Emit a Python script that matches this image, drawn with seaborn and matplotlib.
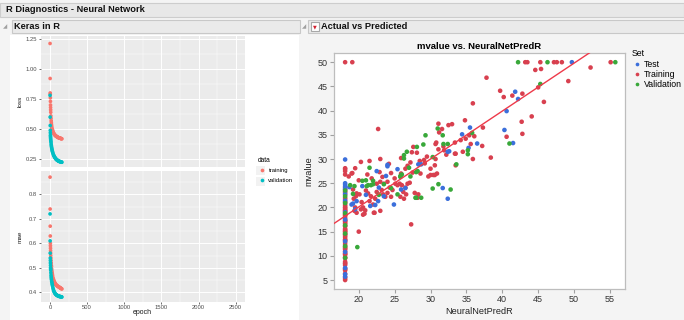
import matplotlib
matplotlib.use('Agg')
import matplotlib.pyplot as plt
import seaborn as sns
import numpy as np
import pandas as pd
from matplotlib.patches import Rectangle
from matplotlib.ticker import MultipleLocator, FormatStrFormatter

plt.rcParams['font.family'] = ['Liberation Sans', 'DejaVu Sans']

# ---- keras training history (left panel) ----
epochs = [1, 2, 3, 4, 5, 6, 7, 8, 9, 10, 12, 14, 16, 18, 20, 23, 26, 29, 32, 35,
          40, 45, 50, 55, 60, 65, 70, 75, 80, 85, 90, 95, 100, 105, 110, 115, 120,
          125, 130, 135, 140, 145, 150, 155, 160]
loss_train = [1.21, 0.92, 0.80, 0.79, 0.76, 0.73, 0.70, 0.68, 0.66, 0.64,
              0.61, 0.59, 0.57, 0.555, 0.54, 0.525, 0.51, 0.50, 0.495, 0.49,
              0.48, 0.472, 0.466, 0.461, 0.456, 0.452, 0.449, 0.446, 0.443, 0.441,
              0.439, 0.437, 0.435, 0.433, 0.431, 0.430, 0.428, 0.427, 0.426, 0.425,
              0.424, 0.423, 0.422, 0.421, 0.420]
loss_val = [0.78, 0.60, 0.53, 0.49, 0.47, 0.45, 0.44, 0.43, 0.42, 0.41,
            0.40, 0.39, 0.375, 0.365, 0.355, 0.345, 0.335, 0.325, 0.318, 0.31,
            0.30, 0.29, 0.283, 0.277, 0.271, 0.266, 0.261, 0.257, 0.253, 0.250,
            0.247, 0.244, 0.242, 0.240, 0.238, 0.236, 0.234, 0.233, 0.232, 0.231,
            0.230, 0.229, 0.228, 0.227, 0.226]
mae_train = [0.87, 0.74, 0.67, 0.63, 0.60, 0.59, 0.58, 0.57, 0.56, 0.55,
             0.54, 0.53, 0.52, 0.51, 0.505, 0.495, 0.487, 0.48, 0.474, 0.468,
             0.46, 0.455, 0.45, 0.446, 0.442, 0.439, 0.436, 0.434, 0.432, 0.430,
             0.428, 0.427, 0.426, 0.425, 0.424, 0.423, 0.422, 0.421, 0.420, 0.419,
             0.418, 0.417, 0.416, 0.415, 0.414]
mae_val = [0.72, 0.61, 0.56, 0.54, 0.53, 0.52, 0.51, 0.50, 0.495, 0.49,
           0.48, 0.47, 0.463, 0.457, 0.452, 0.445, 0.44, 0.434, 0.43, 0.425,
           0.418, 0.412, 0.407, 0.403, 0.40, 0.397, 0.395, 0.393, 0.391, 0.390,
           0.389, 0.388, 0.387, 0.386, 0.385, 0.385, 0.384, 0.384, 0.383, 0.383,
           0.383, 0.382, 0.382, 0.382, 0.381]

# ---- actual vs predicted (right panel) ----
strip_pred = 18.1  # predictions clamped at the low end
test_strip_y = [5.7, 6.2, 7.5, 10.8, 13.0, 17.5, 19.0, 21.4, 22.8, 23.8, 24.3, 24.7, 25.0, 29.9]
test_x = [19.2, 19.7, 22.3, 22.7, 24.9, 22.5, 24.0, 24.0, 23.8, 25.4,
          28.3, 28.7, 31.7, 32.4, 32.4, 32.6, 34.4, 35.3, 35.5, 36.5,
          40.3, 40.6, 41.5, 41.8, 42.2, 49.7,
          20.5, 21.0, 23.5, 25.9, 26.5, 19.5, 21.6, 18.7, 22.8, 19.0]
test_y = [20.8, 21.3, 20.5, 21.3, 20.6, 27.5, 28.5, 28.8, 26.5, 27.9,
          28.9, 28.9, 24.0, 21.8, 31.5, 31.6, 35.1, 32.3, 36.5, 33.2,
          36.0, 39.9, 33.3, 43.9, 42.4, 50.0,
          24.4, 22.6, 22.3, 23.7, 24.0, 19.6, 20.3, 24.2, 24.1, 20.6]

val_strip_y = [9.6, 12.0, 14.6, 16.3, 18.8, 20.9, 22.3, 23.5]
val_x = [19.8, 19.2, 19.4, 21.5, 20.5, 21.0, 21.3, 22.0, 26.3, 26.3,
         26.7, 25.8, 27.0, 28.1, 28.2, 29.0, 29.3, 28.0, 28.7, 30.3,
         31.1, 32.8, 30.3, 31.0, 31.7, 31.8, 32.4, 33.6, 35.2, 35.2,
         35.8, 41.0, 42.2, 46.3, 55.75, 45.3, 26.0, 24.5, 22.8, 23.5,
         18.8, 21.1, 21.7, 22.0, 25.8, 27.2, 25.4, 28.0, 27.9]
val_y = [11.8, 22.8, 24.4, 28.2, 25.5, 25.6, 24.6, 25.5, 30.8, 30.1,
         31.5, 26.5, 28.2, 32.5, 27.5, 33.0, 34.9, 22.0, 22.0, 23.9,
         24.8, 23.7, 30.4, 36.3, 34.9, 33.1, 33.1, 28.9, 31.8, 31.0,
         35.4, 33.2, 50.0, 50.0, 50.0, 45.5, 26.8, 24.0, 22.6, 24.8,
         24.6, 24.4, 24.6, 24.8, 26.3, 26.4, 22.7, 27.3, 22.0]

train_strip_y = [5.0, 5.3, 5.6, 6.3, 7.0, 7.2, 7.4, 8.1, 8.4, 8.5, 8.8, 9.5, 9.7, 10.2,
                 10.4, 10.5, 10.9, 11.3, 11.5, 11.7, 11.9, 12.3, 12.7, 13.1, 13.3, 13.4,
                 13.8, 14.1, 14.4, 14.5, 14.9, 15.0, 15.2, 15.4, 15.6, 16.1, 16.2, 16.6,
                 16.8, 17.1, 17.2, 17.4, 17.8, 18.2, 18.4, 18.5, 18.7, 19.1, 19.3, 19.4,
                 19.6, 19.9, 20.0, 20.3, 20.6, 21.0, 21.2, 21.7, 22.0, 22.6, 23.1, 23.3,
                 23.7, 24.1, 26.8, 27.5, 27.9, 28.1, 50.0]
train_x = [19.1, 19.1, 21.5, 22.7, 23.3, 25.9, 25.9, 26.5, 27.2, 27.4,
           27.6, 28.1, 29.1, 29.2, 30.0, 30.0, 30.6, 30.9, 30.6, 30.7,
           30.8, 30.7, 31.1, 31.2, 31.1, 31.6, 31.8, 31.9, 32.2, 32.5,
           33.0, 33.4, 33.4, 33.5, 33.5, 34.2, 34.5, 34.8, 34.9, 35.4,
           35.6, 35.9, 35.9, 36.1, 37.2, 37.3, 37.8, 38.4, 39.7, 40.2,
           40.6, 41.4, 42.7, 42.8, 42.8, 43.2, 43.5, 44.1, 44.6, 45.0,
           45.3, 45.4, 45.8, 47.2, 47.6, 48.3, 49.2, 52.3, 55.1, 27.3,
           20.0, 19.0, 19.2, 19.3, 19.6, 19.7, 20.1, 20.4, 20.6, 20.3,
           20.8, 20.9, 19.5, 19.4, 19.7, 21.3, 21.7, 21.5, 22.0, 22.1,
           23.0, 22.3, 22.5, 23.2, 23.4, 23.7, 24.0, 24.3, 24.5, 24.7,
           24.0, 23.5, 23.0, 22.5, 25.1, 25.4, 25.7, 26.0, 26.5, 26.8,
           27.1, 26.6, 26.3, 25.8, 26.2, 27.8, 28.3, 28.2, 29.7, 30.4,
           20.6, 22.2, 21.0, 20.0, 21.8, 22.9, 24.5, 25.0, 27.5, 28.6,
           26.8, 24.2, 23.0, 20.3, 21.2, 19.5, 18.6, 29.5, 28.5]
train_y = [50.0, 27.1, 29.6, 36.2, 26.3, 27.0, 30.2, 28.0, 29.3, 31.4,
           32.5, 31.3, 29.8, 29.1, 26.7, 28.0, 26.7, 27.0, 28.7, 30.0,
           33.4, 33.1, 32.0, 35.5, 37.3, 36.2, 32.6, 31.8, 30.9, 37.0,
           37.2, 33.4, 31.1, 28.7, 31.1, 33.9, 31.5, 38.0, 34.2, 34.9,
           33.1, 41.5, 30.0, 34.7, 32.7, 36.5, 46.8, 30.3, 44.1, 42.8,
           34.6, 43.1, 37.7, 43.5, 35.2, 50.0, 50.0, 38.8, 48.4, 44.8,
           50.0, 48.6, 41.8, 50.0, 50.0, 50.0, 46.1, 48.9, 50.0, 16.5,
           15.0, 27.0, 23.7, 21.8, 22.3, 22.9, 22.7, 21.1, 20.0, 19.6,
           18.7, 19.4, 20.0, 19.3, 18.9, 22.9, 22.3, 21.3, 20.6, 18.9,
           19.3, 21.8, 23.2, 23.6, 22.7, 22.2, 23.0, 24.1, 22.2, 23.6,
           25.3, 24.9, 25.3, 24.9, 24.9, 24.6, 24.9, 24.6, 24.1, 24.9,
           25.1, 22.7, 21.8, 22.2, 23.2, 23.0, 22.7, 22.0, 26.4, 26.7,
           18.5, 18.9, 23.5, 25.6, 26.0, 27.3, 27.1, 26.0, 27.2, 27.0,
           28.6, 29.0, 30.0, 29.4, 26.8, 28.1, 26.4, 30.5, 29.6]

fit_intercept = 0.3
fit_slope = 0.99

gg_colors = {'training': '#F8766D', 'validation': '#00BFC4'}
set_colors = {'Test': '#3B6FDB', 'Training': '#D8404F', 'Validation': '#39A83A'}

# tidy frames
hist = pd.concat([
    pd.DataFrame({'epoch': epochs, 'value': loss_train, 'data': 'training', 'metric': 'loss'}),
    pd.DataFrame({'epoch': epochs, 'value': loss_val, 'data': 'validation', 'metric': 'loss'}),
    pd.DataFrame({'epoch': epochs, 'value': mae_train, 'data': 'training', 'metric': 'mae'}),
    pd.DataFrame({'epoch': epochs, 'value': mae_val, 'data': 'validation', 'metric': 'mae'}),
])


def set_frame(name, strip_y, xs, ys):
    px = [strip_pred] * len(strip_y) + list(xs)
    return pd.DataFrame({'NeuralNetPredR': px, 'mvalue': list(strip_y) + list(ys), 'Set': name})


pred = pd.concat([
    set_frame('Training', train_strip_y, train_x, train_y),
    set_frame('Test', test_strip_y, test_x, test_y),
    set_frame('Validation', val_strip_y, val_x, val_y),
])

W, H = 684, 320


def px_rect(x, y, w, h):
    return [x / W, 1 - (y + h) / H, w / W, h / H]


fig = plt.figure(figsize=(W / 100, H / 100), dpi=100, facecolor='#F4F4F4')


def box(x, y, w, h, fc, ec='none'):
    fig.patches.append(Rectangle((x / W, 1 - (y + h) / H), w / W, h / H,
                                 transform=fig.transFigure, facecolor=fc,
                                 edgecolor=ec, lw=0.8, zorder=-1))


# JMP window chrome
box(0, 3, W, 14, '#E8E8E8', '#CDCDCD')
box(12, 20, 288, 13, '#EAEAEA', '#C8C8C8')
box(308, 20, 380, 13, '#EAEAEA', '#C8C8C8')
box(10, 35, 289, 290, 'white')
box(311, 22, 8, 9, 'white', '#A8A8A8')
# grey key backgrounds of the ggplot legend
box(256, 166, 9, 9, '#F2F2F2')
box(256, 177, 9, 9, '#F2F2F2')
hdr = dict(fontsize=6.7, fontweight='bold', va='center', color='#111111')
fig.text(6 / W, 1 - 10 / H, 'R Diagnostics - Neural Network', **hdr)
fig.text(14 / W, 1 - 26.5 / H, 'Keras in R', **hdr)
fig.text(321 / W, 1 - 26.5 / H, 'Actual vs Predicted', **hdr)
for tx in (3, 302):
    fig.text(tx / W, 1 - 27 / H, '\u25e2', fontsize=4, color='#A0A0A0', va='center',
             family='DejaVu Sans')
fig.text(315 / W, 1 - 26.5 / H, '\u25bc', fontsize=3.5, color='#D0202E', ha='center',
         va='center', family='DejaVu Sans')

# ---- ggplot-like facets ----
ax_loss = fig.add_axes(px_rect(40.7, 36, 204.3, 130.7))
ax_mae = fig.add_axes(px_rect(40.7, 171, 204.3, 130.7))

panels = [(ax_loss, 'loss', (0.189, 1.272), 0.25, '%.2f'),
          (ax_mae, 'mae', (0.362, 0.895), 0.1, '%.1f')]
for ax, metric, ylim, step, fmt in panels:
    sns.scatterplot(data=hist[hist['metric'] == metric], x='epoch', y='value', hue='data',
                    palette=gg_colors, s=7, linewidth=0, ax=ax, legend=(metric == 'loss'))
    ax.set_facecolor('#EBEBEB')
    for sp in ax.spines.values():
        sp.set_visible(False)
    ax.set_xlim(-125, 2625)
    ax.set_ylim(*ylim)
    ax.xaxis.set_major_locator(MultipleLocator(500))
    ax.xaxis.set_minor_locator(MultipleLocator(250))
    ax.yaxis.set_major_locator(MultipleLocator(step))
    ax.yaxis.set_minor_locator(MultipleLocator(step / 2))
    ax.yaxis.set_major_formatter(FormatStrFormatter(fmt))
    ax.grid(which='major', color='white', lw=0.7)
    ax.grid(which='minor', color='white', lw=0.35)
    ax.set_axisbelow(True)
    ax.tick_params(which='major', length=1.5, width=0.5, color='#333333',
                   labelsize=4.2, labelcolor='#4D4D4D', pad=1)
    ax.tick_params(which='minor', length=0)
    ax.set_xlabel('')
    ax.set_ylabel('')
    fig.text(20 / W, ax.get_position().y0 + ax.get_position().height / 2, metric,
             rotation=90, fontsize=4.6, color='#1A1A1A', ha='center', va='center')

ax_loss.tick_params(axis='x', labelbottom=False, length=0)
fig.text(142 / W, 1 - 313 / H, 'epoch', fontsize=5, color='#1A1A1A', ha='center', va='center')

leg = ax_loss.legend(title='data', loc='upper left', bbox_to_anchor=(255 / W, 1 - 154 / H),
                     bbox_transform=fig.transFigure, frameon=False, fontsize=4.2,
                     title_fontsize=4.8, handletextpad=0.4, labelspacing=0.75,
                     markerscale=1.0, borderpad=0, handlelength=1.4)
leg._legend_box.align = 'left'

# ---- JMP scatter ----
ax = fig.add_axes(px_rect(334, 53, 291, 236))
ax.set_facecolor('white')
sns.scatterplot(data=pred, x='NeuralNetPredR', y='mvalue', hue='Set',
                hue_order=['Test', 'Training', 'Validation'], palette=set_colors,
                s=11, linewidth=0, ax=ax, zorder=2)
ax.set_xlim(16.55, 57.1)
ax.set_ylim(3.15, 51.9)
xs = np.array(ax.get_xlim())
ax.plot(xs, fit_intercept + fit_slope * xs, color='#EE3A4A', lw=1.0, zorder=3)
ax.set_xticks(range(20, 56, 5))
ax.set_yticks(range(5, 51, 5))
for sp in ax.spines.values():
    sp.set_color('#BDBDBD')
    sp.set_linewidth(0.9)
ax.tick_params(length=3, width=0.8, color='#A0A0A0', labelsize=6.5, labelcolor='#333333', pad=1.5)
ax.set_xlabel('NeuralNetPredR', fontsize=6.6, color='#222222', labelpad=2)
ax.set_ylabel('mvalue', fontsize=6.6, color='#222222', labelpad=3)
ax.set_title('mvalue vs. NeuralNetPredR', fontsize=6.8, fontweight='bold', pad=3)

leg2 = ax.legend(title='Set', loc='upper left', bbox_to_anchor=(627 / W, 1 - 45 / H),
                 bbox_transform=fig.transFigure, frameon=False, fontsize=6.3,
                 title_fontsize=6.3, handletextpad=0.2, labelspacing=0.15,
                 markerscale=0.8, borderpad=0, handlelength=1.2)
leg2._legend_box.align = 'left'

fig.savefig('out.png', dpi=100, facecolor=fig.get_facecolor())
